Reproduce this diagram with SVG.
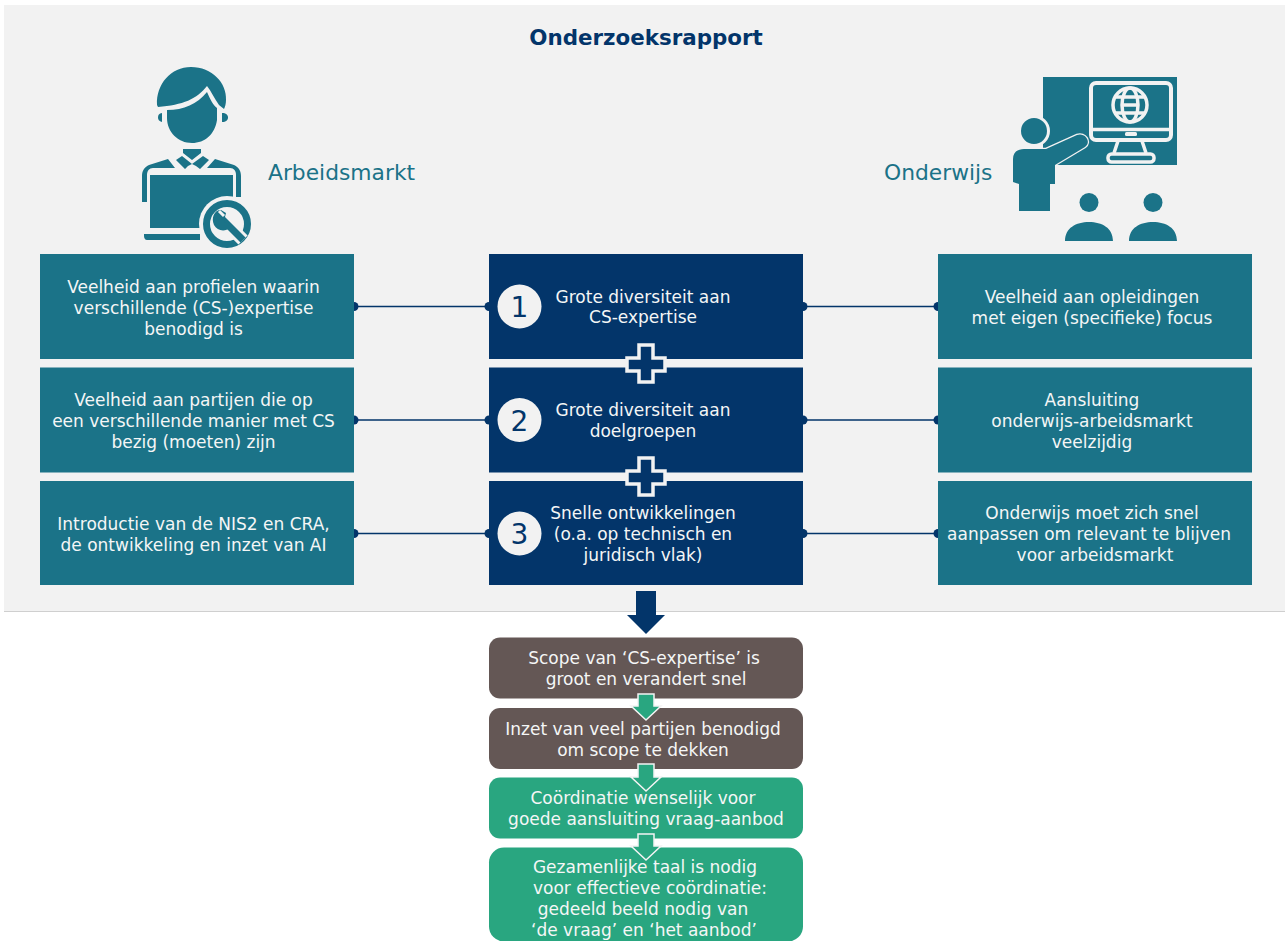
<svg xmlns="http://www.w3.org/2000/svg" width="1285" height="941" viewBox="0 0 1285 941">
<style>
text{font-family:"DejaVu Sans",Verdana,sans-serif;text-anchor:middle}
.t{font-size:17px;fill:#f4f6f6}
.teal{fill:#1b7388}.navy{fill:#03356a}.brown{fill:#645755}.green{fill:#29a680}
.h{font-size:21.800px;fill:#1b7388;text-anchor:start}
.n{font-size:28px;fill:#03356a}
.c{stroke:#03356a;stroke-width:1.400;fill:none}
.d{fill:#03356a}
</style>
<rect width="1285" height="941" fill="#fff"/>
<rect x="4" y="5" width="1281" height="606" fill="#f2f2f2"/>
<line x1="4" y1="611.500" x2="1285" y2="611.500" stroke="#cfcfcf"/>
<text x="646" y="45" font-size="21.400" font-weight="700" fill="#03356a">Onderzoeksrapport</text>

<g id="icon-arbeidsmarkt">
<path class="teal" d="M157 105C156 84 171 67 191 67C212 67 227 83 226 100C226 104 225 107 224 109L219 105C214 98 211 91 207 86C197 99 183 105 158 107Z"/>
<path class="teal" d="M167 110C184 110 197 104 207 92C210 99 213 105 217 108L217 120C215 134 205 143 192 143C178 143 167 132 167 118Z"/>
<path class="teal" d="M162 113v9c-3-1-4-2-4-4.500s1-4 4-4.500ZM222 113c4 0 6 2 6 4.500s-2 4.500-6 4.500Z"/>
<path class="teal" d="M183 149h18v4l-9 7-9-7ZM176 160l6-4 10 8-4 2-3 3ZM209 160l-6-4-11 8 4 2 4 3Z"/>
<path class="teal" d="M142 202V176c0-6 3-9 7-11l19-6 7 9-22 0c-4 0-6 3-6 7v27ZM241 197V176c0-6-3-9-7-11l-19-6-8 9 23 0c4 0 6 3 6 7v22Z"/>
<path class="teal" d="M150 175H233V228H150Z"/>
<path class="teal" d="M144 234H200V240H147C145 240 144 238 144 236Z"/>
<circle cx="227" cy="224" r="28" fill="#f2f2f2"/>
<circle cx="227" cy="224" r="20.500" fill="none" stroke="#1b7388" stroke-width="7"/>
<path d="M222 219L243 240" stroke="#f2f2f2" stroke-width="13"/>
<path d="M222 219L243 240" stroke="#1b7388" stroke-width="7"/>
<path class="teal" d="M221 210C214 210 211 218 214 225C217 231 225 232 230 228L224 221 226 213Z"/>
<path d="M219 211L224 216" stroke="#f2f2f2" stroke-width="3"/>
</g>

<text class="h" x="268" y="180">Arbeidsmarkt</text>
<text class="h" x="884" y="180">Onderwijs</text>

<g id="icon-onderwijs">
<path class="teal" d="M1043 77H1177V165H1056V150H1043Z"/>
<rect x="1091" y="83" width="80" height="57" rx="5" fill="none" stroke="#f2f2f2" stroke-width="4"/>
<line x1="1091" y1="129.500" x2="1171" y2="129.500" stroke="#f2f2f2" stroke-width="3.500"/>
<rect x="1125" y="132" width="12" height="4" rx="1.500" fill="#f2f2f2"/>
<path d="M1118 141L1114 153M1142 141L1146 153" stroke="#f2f2f2" stroke-width="3.500"/>
<rect x="1108" y="154" width="46" height="8" rx="3.500" fill="none" stroke="#f2f2f2" stroke-width="3.500"/>
<g fill="none" stroke="#f2f2f2" stroke-width="3.500">
<circle cx="1130" cy="105" r="17"/>
<ellipse cx="1130" cy="105" rx="8" ry="17"/>
<path d="M1114 97H1146M1114 113H1146"/>
<path d="M1123 105H1137"/>
</g>
<circle cx="1034" cy="131" r="14.500" class="teal" stroke="#f2f2f2" stroke-width="3"/>
<path class="teal" d="M1013 159C1013 152 1018 149 1024 149H1046L1077 135C1085 132 1092 142 1085 147L1055 165V184H1050V211H1019V184L1013 182Z" stroke="#f2f2f2" stroke-width="2.500" paint-order="stroke"/>
<circle cx="1089" cy="202.500" r="9.500" class="teal"/>
<circle cx="1153" cy="202.500" r="9.500" class="teal"/>
<path class="teal" d="M1065 241C1065 228 1076 222 1089 222C1102 222 1113 228 1113 241ZM1129 241C1129 228 1140 222 1153 222C1166 222 1177 228 1177 241Z"/>
</g>

<g id="connectors">
<path class="c" d="M354 306.500H489M803 306.500H938M354 420H489M803 420H938M354 533.500H489M803 533.500H938"/>
<g class="d">
<circle cx="354" cy="306.500" r="4.500"/><circle cx="489" cy="306.500" r="4.500"/><circle cx="803" cy="306.500" r="4.500"/><circle cx="938" cy="306.500" r="4.500"/>
<circle cx="354" cy="420" r="4.500"/><circle cx="489" cy="420" r="4.500"/><circle cx="803" cy="420" r="4.500"/><circle cx="938" cy="420" r="4.500"/>
<circle cx="354" cy="533.500" r="4.500"/><circle cx="489" cy="533.500" r="4.500"/><circle cx="803" cy="533.500" r="4.500"/><circle cx="938" cy="533.500" r="4.500"/>
</g>
<path class="navy" d="M636 591H656V615H665L646 634 627 615H636Z"/>
</g>

<g id="left-1"><rect x="40" y="254" width="314" height="105" class="teal"/><text class="t"><tspan x="193.500" y="293">Veelheid aan profielen waarin</tspan><tspan x="193.500" y="314">verschillende (CS-)expertise</tspan><tspan x="193.500" y="335">benodigd is</tspan></text></g>
<g id="left-2"><rect x="40" y="367.500" width="314" height="105" class="teal"/><text class="t"><tspan x="193.500" y="406">Veelheid aan partijen die op</tspan><tspan x="193.500" y="427">een verschillende manier met CS</tspan><tspan x="193.500" y="448">bezig (moeten) zijn</tspan></text></g>
<g id="left-3"><rect x="40" y="481" width="314" height="104" class="teal"/><text class="t"><tspan x="193.500" y="530">Introductie van de NIS2 en CRA,</tspan><tspan x="193.500" y="551">de ontwikkeling en inzet van AI</tspan></text></g>

<g id="mid-1"><rect x="489" y="254" width="314" height="105" class="navy"/><circle cx="519.500" cy="306.500" r="22" fill="#f2f2f2"/><text class="n" x="519.500" y="317">1</text><text class="t"><tspan x="643" y="303">Grote diversiteit aan</tspan><tspan x="643" y="323">CS-expertise</tspan></text></g>
<g id="mid-2"><rect x="489" y="367.500" width="314" height="105" class="navy"/><circle cx="519.500" cy="420" r="22" fill="#f2f2f2"/><text class="n" x="519.500" y="431">2</text><text class="t"><tspan x="643" y="416">Grote diversiteit aan</tspan><tspan x="643" y="437">doelgroepen</tspan></text></g>
<g id="mid-3"><rect x="489" y="481" width="314" height="104" class="navy"/><circle cx="519.500" cy="533.500" r="22" fill="#f2f2f2"/><text class="n" x="519.500" y="544">3</text><text class="t"><tspan x="643" y="519">Snelle ontwikkelingen</tspan><tspan x="643" y="540">(o.a. op technisch en</tspan><tspan x="643" y="561">juridisch vlak)</tspan></text></g>

<g id="plus-1"><path class="navy" stroke="#f2f2f2" stroke-width="3.500" d="M639 345H653V358H665V371H653V382H639V371H627V358H639Z"/></g>
<g id="plus-2"><path class="navy" stroke="#f2f2f2" stroke-width="3.500" d="M639 458H653V471H665V484H653V495H639V484H627V471H639Z"/></g>

<g id="right-1"><rect x="938" y="254" width="314" height="105" class="teal"/><text class="t"><tspan x="1092" y="303">Veelheid aan opleidingen</tspan><tspan x="1092" y="324">met eigen (specifieke) focus</tspan></text></g>
<g id="right-2"><rect x="938" y="367.500" width="314" height="105" class="teal"/><text class="t"><tspan x="1092" y="406">Aansluiting</tspan><tspan x="1092" y="427">onderwijs-arbeidsmarkt</tspan><tspan x="1092" y="448">veelzijdig</tspan></text></g>
<g id="right-3"><rect x="938" y="481" width="314" height="104" class="teal"/><text class="t"><tspan x="1092" y="519">Onderwijs moet zich snel</tspan><tspan x="1089" y="540">aanpassen om relevant te blijven</tspan><tspan x="1095" y="561">voor arbeidsmarkt</tspan></text></g>

<g id="flow-1"><rect x="489" y="637.500" width="314" height="61" rx="11" class="brown"/><text class="t"><tspan x="644" y="664">Scope van ‘CS-expertise’ is</tspan><tspan x="646" y="685">groot en verandert snel</tspan></text></g>
<g id="flow-2"><rect x="489" y="708" width="314" height="61" rx="11" class="brown"/><text class="t"><tspan x="643" y="735">Inzet van veel partijen benodigd</tspan><tspan x="643" y="756">om scope te dekken</tspan></text></g>
<g id="flow-3"><rect x="489" y="777.500" width="314" height="61" rx="11" class="green"/><text class="t"><tspan x="643" y="804">Coördinatie wenselijk voor</tspan><tspan x="646" y="825">goede aansluiting vraag-aanbod</tspan></text></g>
<g id="flow-4"><rect x="489" y="847.500" width="314" height="94" rx="15" class="green"/><text class="t"><tspan x="645" y="873">Gezamenlijke taal is nodig</tspan><tspan x="650" y="894">voor effectieve coördinatie:</tspan><tspan x="643" y="915">gedeeld beeld nodig van</tspan><tspan x="644" y="936">‘de vraag’ en ‘het aanbod’</tspan></text></g>

<g id="flow-arrows" fill="#29a680" stroke="#f4f4f4" stroke-width="1.500">
<path d="M638 694H654V706H661L646 720 631 706H638Z"/>
<path d="M638 764H654V777H661L646 791 631 777H638Z"/>
<path d="M638 834H654V846H661L646 860 631 846H638Z"/>
</g>
</svg>
